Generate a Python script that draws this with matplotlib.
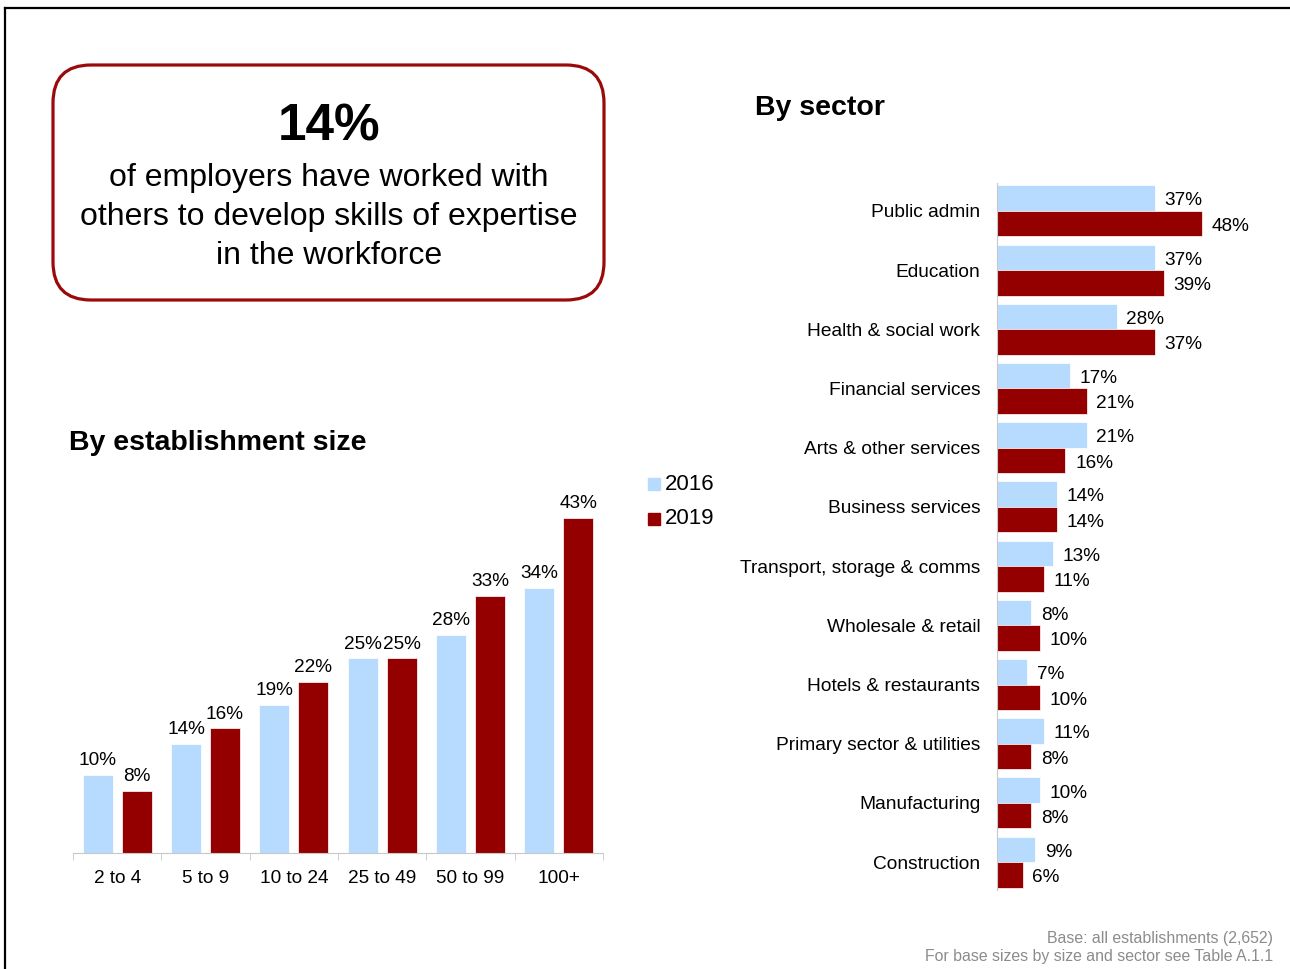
import numpy as np
import matplotlib
matplotlib.use("Agg")
from matplotlib import pyplot as plt
from matplotlib.patches import FancyBboxPatch
from matplotlib.lines import Line2D

plt.rcParams["font.family"] = ["Liberation Sans", "DejaVu Sans"]

# data
size_labels = ["2 to 4", "5 to 9", "10 to 24", "25 to 49", "50 to 99", "100+"]
size_2016 = [10, 14, 19, 25, 28, 34]
size_2019 = [8, 16, 22, 25, 33, 43]

sectors = ["Public admin", "Education", "Health & social work", "Financial services",
           "Arts & other services", "Business services", "Transport, storage & comms",
           "Wholesale & retail", "Hotels & restaurants", "Primary sector & utilities",
           "Manufacturing", "Construction"]
sector_2016 = [37, 37, 28, 17, 21, 14, 13, 8, 7, 11, 10, 9]
sector_2019 = [48, 39, 37, 21, 16, 14, 11, 10, 10, 8, 8, 6]

years = ["2016", "2019"]
BLUE = "#b7dbff"
RED = "#940000"
W, H = 1290, 969


def fig_rect(x0, y0, x1, y1):
    """pixel box (top-left origin) -> figure fraction rect"""
    return [x0 / W, (H - y1) / H, (x1 - x0) / W, (y1 - y0) / H]


def main():
    fig = plt.figure(figsize=(W / 100, H / 100), dpi=100)

    # background layer in pixel coordinates
    bg = fig.add_axes([0, 0, 1, 1])
    bg.set_xlim(0, W)
    bg.set_ylim(H, 0)
    bg.axis("off")
    bg.add_line(Line2D([5, W], [8, 8], color="black", lw=1.6))
    bg.add_line(Line2D([5, 5], [8, H], color="black", lw=1.6))

    box = FancyBboxPatch((53, 65), 551, 235, boxstyle="round,pad=0,rounding_size=38",
                         fc="white", ec="#9b0a0a", lw=2.3)
    bg.add_patch(box)
    bg.text(329, 127, "14%", ha="center", va="center", fontsize=37, fontweight="bold")
    bg.text(329, 217, "of employers have worked with\nothers to develop skills of expertise\nin the workforce",
            ha="center", va="center", fontsize=23, linespacing=1.37)

    bg.text(69, 443, "By establishment size", ha="left", va="center", fontsize=20.5, fontweight="bold")
    bg.text(755, 108, "By sector", ha="left", va="center", fontsize=20.5, fontweight="bold")

    bg.text(1273, 938, "Base: all establishments (2,652)", ha="right", va="center",
            fontsize=11.4, color="#8c8c8c")
    bg.text(1273, 957, "For base sizes by size and sector see Table A.1.1", ha="right", va="center",
            fontsize=11.4, color="#8c8c8c")

    # legend
    for i, (yr, col) in enumerate(zip(years, [BLUE, RED])):
        yy = 484 + i * 35
        bg.add_patch(plt.Rectangle((648, yy - 6), 12, 12, color=col))
        bg.text(665, yy, yr, ha="left", va="center", fontsize=16)

    # by establishment size
    ax = fig.add_axes(fig_rect(73, 500, 603, 853))
    x = np.arange(len(size_labels))
    w = 0.34
    b1 = ax.bar(x - 0.22, size_2016, w, color=BLUE, edgecolor="white", lw=0.5)
    b2 = ax.bar(x + 0.22, size_2019, w, color=RED, edgecolor="white", lw=0.5)
    for bars, vals in [(b1, size_2016), (b2, size_2019)]:
        for bar, v in zip(bars, vals):
            ax.annotate(f"{v}%", (bar.get_x() + bar.get_width() / 2, v), xytext=(0, 7),
                        textcoords="offset points", ha="center", va="baseline", fontsize=13.7)
    ax.set_xlim(-0.5, len(size_labels) - 0.5)
    ax.set_ylim(0, 353 / 7.79)
    ax.set_xticks(x)
    ax.set_xticklabels(size_labels, fontsize=13.7)
    ax.set_xticks(np.arange(-0.5, len(size_labels)), minor=True)
    ax.tick_params(axis="x", which="major", length=0, pad=12)
    ax.tick_params(axis="x", which="minor", length=5, color="#c8c8c8")
    ax.set_yticks([])
    for s in ["top", "right", "left"]:
        ax.spines[s].set_visible(False)
    ax.spines["bottom"].set_color("#c8c8c8")

    # by sector
    ax2 = fig.add_axes(fig_rect(997, 183, 1280, 890))
    y = np.arange(len(sectors))
    h = 0.43
    c1 = ax2.barh(y - 0.215, sector_2016, h, color=BLUE, edgecolor="white", lw=0.5)
    c2 = ax2.barh(y + 0.215, sector_2019, h, color=RED, edgecolor="white", lw=0.5)
    for bars, vals in [(c1, sector_2016), (c2, sector_2019)]:
        for bar, v in zip(bars, vals):
            ax2.annotate(f"{v}%", (v, bar.get_y() + bar.get_height() / 2), xytext=(7, -2),
                         textcoords="offset points", ha="left", va="center", fontsize=13.7)
    ax2.set_ylim(len(sectors) - 0.53, -0.47)
    ax2.set_xlim(0, 283 / 4.27)
    ax2.set_yticks(y)
    ax2.set_yticklabels(sectors, fontsize=13.8)
    ax2.tick_params(axis="y", length=0, pad=12)
    ax2.set_xticks([])
    for s in ["top", "right", "bottom"]:
        ax2.spines[s].set_visible(False)
    ax2.spines["left"].set_color("#c8c8c8")

    fig.savefig("out.png", dpi=100)


if __name__ == "__main__":
    main()
